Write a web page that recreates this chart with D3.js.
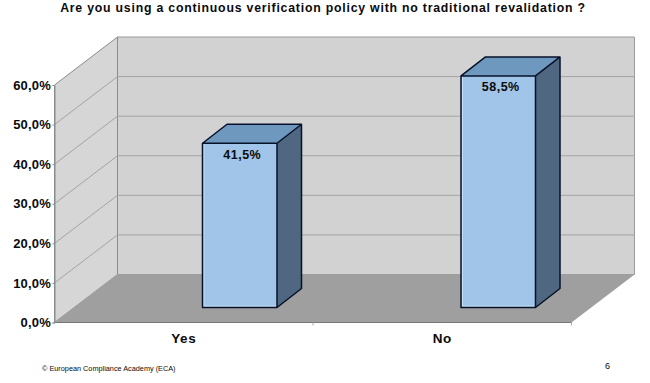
<!DOCTYPE html>
<html>
<head>
<meta charset="utf-8">
<script src="https://cdn.jsdelivr.net/npm/d3@7"></script>
<style>
	html, body { margin: 0; padding: 0; background: #fff; }
	svg { display: block; }
	text { font-family: "Liberation Sans", Arial, sans-serif; fill: #0a0a0a; }
</style>
</head>
<body>
<div id="chart"></div>
<script>
"use strict";

const categories = ["Yes", "No"];
const shares = [41.5, 58.5];
const yTicks = [0, 10, 20, 30, 40, 50, 60];
const titleText = "Are you using a continuous verification policy with no traditional revalidation ?";
const footerText = "© European Compliance Academy (ECA)";
const pageNumber = "6";

const width = 650, height = 383;

/*
 *	Front plane of the box, and how far the back wall is pushed away.
 */
const plot = {left: 54.5, right: 571.5, top: 85, bottom: 322.5};
const depth = {x: 63, y: -48};
const barShift = {x: 56, y: -15};
const barDepth = {x: 24.5, y: -19};
const barWidth = 74.5;

const fn_xScale = d3.scaleBand().domain(categories).range([plot.left, plot.right]);
const fn_yScale = d3.scaleLinear().domain([0, 60]).range([plot.bottom, plot.top]);

const fn_percent = d3.formatLocale({decimal: ",", thousands: ".", grouping: [3], currency: ["", ""]}).format(".1f");
const fn_label = v => fn_percent(v) + "%";

const fn_poly = pts => "M" + pts.map(p => p.join(",")).join("L") + "Z";

let svg = d3.select("#chart")
	.append("svg")
	.attr("width", width)
	.attr("height", height);

let yTop = fn_yScale(60), yBase = fn_yScale(0);

/*
 *	Walls and floor.
 */
svg.append("path")
	.attr("d", fn_poly([
		[plot.left + depth.x, yTop + depth.y], [plot.right + depth.x, yTop + depth.y],
		[plot.right + depth.x, yBase + depth.y], [plot.left + depth.x, yBase + depth.y]
	]))
	.attr("fill", "#d3d2d2")
	.attr("stroke", "#9a9a9a")
	.attr("stroke-width", 1);

svg.append("path")
	.attr("d", fn_poly([
		[plot.left, yTop], [plot.left + depth.x, yTop + depth.y],
		[plot.left + depth.x, yBase + depth.y], [plot.left, yBase]
	]))
	.attr("fill", "#d6d6d6")
	.attr("stroke", "#8c8c8c")
	.attr("stroke-width", 1);

svg.append("path")
	.attr("d", fn_poly([
		[plot.left, yBase], [plot.right, yBase],
		[plot.right + depth.x, yBase + depth.y], [plot.left + depth.x, yBase + depth.y]
	]))
	.attr("fill", "#a09f9f");

svg.append("line")
	.attr("x1", plot.left).attr("x2", plot.right)
	.attr("y1", yBase).attr("y2", yBase)
	.attr("stroke", "#777")
	.attr("stroke-width", 1.2);

/*
 *	Grid lines, going along the side wall and then the back wall.
 */
svg.append("g")
	.selectAll("path")
	.data(yTicks.slice(1, -1))
	.enter()
	.append("path")
	.attr("d", d => {
		let y = fn_yScale(d);
		return "M" + plot.left + "," + y
			+ "L" + (plot.left + depth.x) + "," + (y + depth.y)
			+ "L" + (plot.right + depth.x) + "," + (y + depth.y);
	})
	.attr("fill", "none")
	.attr("stroke", "#a3a3a3")
	.attr("stroke-width", 1);

/*
 *	Bars.
 */
let bars = svg.selectAll("g.bar")
	.data(categories)
	.enter()
	.append("g")
	.classed("bar", true);

bars.each(function(c, i) {
	let g = d3.select(this);
	let x0 = fn_xScale(c) + fn_xScale.bandwidth() / 2 + barShift.x - barWidth / 2;
	let x1 = x0 + barWidth;
	let y0 = fn_yScale(0) + barShift.y;
	let y1 = fn_yScale(shares[i]) + barShift.y;

	g.append("path")
		.attr("d", fn_poly([[x0, y1], [x1, y1], [x1 + barDepth.x, y1 + barDepth.y], [x0 + barDepth.x, y1 + barDepth.y]]))
		.attr("fill", "#6f98bf");
	g.append("path")
		.attr("d", fn_poly([[x1, y1], [x1 + barDepth.x, y1 + barDepth.y], [x1 + barDepth.x, y0 + barDepth.y], [x1, y0]]))
		.attr("fill", "#4f6781");
	g.append("rect")
		.attr("x", x0).attr("y", y1)
		.attr("width", barWidth).attr("height", y0 - y1)
		.attr("fill", "#a0c5e8");
	// light inner edge of the front face
	g.append("path")
		.attr("d", "M" + (x0 + 1.4) + "," + (y1 + 1) + "L" + (x0 + 1.4) + "," + (y0 - 1.4) + "L" + (x1 - 1) + "," + (y0 - 1.4))
		.attr("fill", "none")
		.attr("stroke", "#cde3f6")
		.attr("stroke-width", 1);
	g.append("path")
		.attr("d", fn_poly([
			[x0, y1], [x0 + barDepth.x, y1 + barDepth.y], [x1 + barDepth.x, y1 + barDepth.y],
			[x1 + barDepth.x, y0 + barDepth.y], [x1, y0], [x0, y0]
		]) + "M" + x0 + "," + y1 + "L" + x1 + "," + y1 + "L" + x1 + "," + y0
			+ "M" + x1 + "," + y1 + "L" + (x1 + barDepth.x) + "," + (y1 + barDepth.y))
		.attr("fill", "none")
		.attr("stroke", "#06122a")
		.attr("stroke-width", 1.5)
		.attr("stroke-linejoin", "round");

	g.append("text")
		.attr("x", (x0 + x1) / 2 + 2.5)
		.attr("y", y1 + 15.5)
		.attr("text-anchor", "middle")
		.style("font-size", "12.5px")
		.style("font-weight", "bold")
		.style("letter-spacing", "0.5px")
		.text(fn_label(shares[i]));
});

/*
 *	Axes.
 */
let fn_yAxis = d3.axisLeft(fn_yScale)
	.tickValues(yTicks)
	.tickSize(2)
	.tickPadding(1.5)
	.tickFormat(fn_label);

let fn_xAxis = d3.axisBottom(fn_xScale)
	.tickSize(0)
	.tickPadding(10.5);

let yAxis = svg.append("g")
	.classed("y-axis", true)
	.attr("transform", "translate(" + plot.left + ", 0)")
	.call(fn_yAxis);

yAxis.select(".domain").attr("stroke", "#8c8c8c");
yAxis.selectAll("line").attr("stroke", "#8c8c8c");
yAxis.selectAll("text")
	.style("font-size", "13px")
	.style("font-weight", "bold")
	.style("letter-spacing", "0.2px")
	.style("font-family", "'Liberation Sans', Arial, sans-serif");

let xAxis = svg.append("g")
	.classed("x-axis", true)
	.attr("transform", "translate(0, " + plot.bottom + ")")
	.call(fn_xAxis);

xAxis.select(".domain").remove();
xAxis.selectAll("text")
	.style("font-size", "13.5px")
	.style("font-weight", "bold")
	.style("letter-spacing", "0.6px")
	.style("font-family", "'Liberation Sans', Arial, sans-serif");

// small ticks between the categories and at the right end
xAxis.selectAll("line.edge")
	.data([(plot.left + plot.right) / 2, plot.right])
	.enter()
	.append("line")
	.classed("edge", true)
	.attr("x1", d => d).attr("x2", d => d)
	.attr("y1", 0).attr("y2", 3)
	.attr("stroke", "#aaa");

/*
 *	Title and footer.
 */
svg.append("text")
	.attr("x", 323)
	.attr("y", 12)
	.attr("text-anchor", "middle")
	.style("font-size", "12.3px")
	.style("font-weight", "bold")
	.style("letter-spacing", "0.78px")
	.text(titleText);

svg.append("text")
	.attr("x", 42)
	.attr("y", 371)
	.style("font-size", "7.3px")
	.text(footerText);

svg.append("text")
	.attr("x", 607.5)
	.attr("y", 369)
	.attr("text-anchor", "middle")
	.style("font-size", "9px")
	.text(pageNumber);
</script>
</body>
</html>
